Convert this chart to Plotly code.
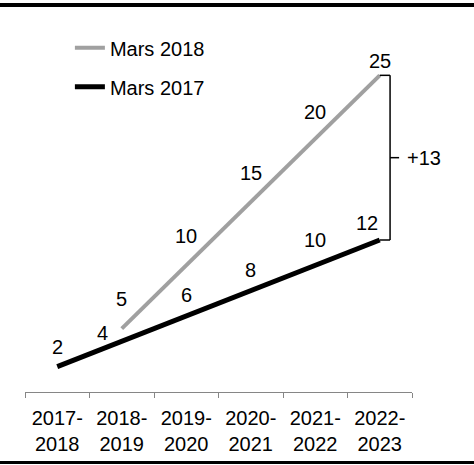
import plotly.graph_objects as go

categories = ["2017-<br>2018", "2018-<br>2019", "2019-<br>2020", "2020-<br>2021", "2021-<br>2022", "2022-<br>2023"]
mars2018_cats = categories[1:]
mars2018_vals = [5, 10, 15, 20, 25]
mars2017_vals = [2, 4, 6, 8, 10, 12]

# label offsets (px) — style only
off2018 = [(0, 30), (0, 29), (0, 29), (0, 27), (0, 14)]
off2017 = [(0, 20), (-19, 8), (0, 21), (0, 21), (0, 25), (-13, 17)]

FONT = "Liberation Sans, Arial, sans-serif"
GREY = "#a0a0a0"

fig = go.Figure()
fig.add_trace(go.Scatter(x=mars2018_cats, y=mars2018_vals, mode="lines", name="Mars 2018",
                         line=dict(color=GREY, width=4), legendgroup="a"))
fig.add_trace(go.Scatter(x=categories, y=mars2017_vals, mode="lines", name="Mars 2017",
                         line=dict(color="black", width=5), legendgroup="b"))

ann = []
for c, v, (dx, dy) in zip(mars2018_cats, mars2018_vals, off2018):
    ann.append(dict(x=c, y=v, text=str(v), showarrow=False, xshift=dx, yshift=dy,
                    font=dict(size=20, color="black", family=FONT)))
for c, v, (dx, dy) in zip(categories, mars2017_vals, off2017):
    ann.append(dict(x=c, y=v, text=str(v), showarrow=False, xshift=dx, yshift=dy,
                    font=dict(size=20, color="black", family=FONT)))

# bracket between last values
last_i = len(categories) - 1
top = mars2018_vals[-1]
bot = mars2017_vals[-1]
bx = last_i + 0.16
mid = (top + bot) / 2
shapes = [
    dict(type="line", xref="x", yref="y", x0=last_i, x1=bx, y0=top, y1=top, line=dict(color="black", width=1.5)),
    dict(type="line", xref="x", yref="y", x0=bx, x1=bx, y0=top, y1=bot, line=dict(color="black", width=1.5)),
    dict(type="line", xref="x", yref="y", x0=last_i, x1=bx, y0=bot, y1=bot, line=dict(color="black", width=1.5)),
    dict(type="line", xref="x", yref="y", x0=bx, x1=bx + 0.14, y0=mid, y1=mid, line=dict(color="black", width=1.5)),
    # frame bands top and bottom (span the figure width)
    dict(type="rect", xref="paper", yref="paper", x0=-0.0646, x1=1.1602, y0=1.0132, y1=1.0237,
         fillcolor="black", line=dict(width=0)),
    dict(type="rect", xref="paper", yref="paper", x0=-0.0646, x1=1.1602, y0=-0.1895, y1=-0.1816,
         fillcolor="black", line=dict(width=0)),
]
ann.append(dict(x=bx + 0.14, y=mid, text=f"+{top - bot}", showarrow=False, xanchor="left", xshift=6,
                font=dict(size=20, color="black", family=FONT)))

fig.update_layout(
    width=474, height=465,
    margin=dict(l=25, r=62, t=12, b=73, autoexpand=False),
    paper_bgcolor="white", plot_bgcolor="white",
    font=dict(family=FONT, size=20, color="black"),
    showlegend=True,
    legend=dict(x=0.116, y=0.957, xanchor="left", yanchor="top", traceorder="grouped",
                tracegroupgap=10, bgcolor="rgba(0,0,0,0)", font=dict(size=20)),
    xaxis=dict(type="category", categoryorder="array", categoryarray=categories,
               range=[-0.5, 5.5], tickson="boundaries", ticks="outside", ticklen=5,
               tickcolor="#868686", showline=True, linecolor="#868686", linewidth=1,
               ticklabelstandoff=8, automargin=False,
               showgrid=False, zeroline=False, tickfont=dict(size=20, color="black")),
    yaxis=dict(range=[0, 30], visible=False, showgrid=False, zeroline=False, automargin=False),
    annotations=ann, shapes=shapes,
)

fig.write_html("out.html", config={"displayModeBar": False},
               post_script="document.body.style.margin='0';document.body.style.overflow='hidden';")
